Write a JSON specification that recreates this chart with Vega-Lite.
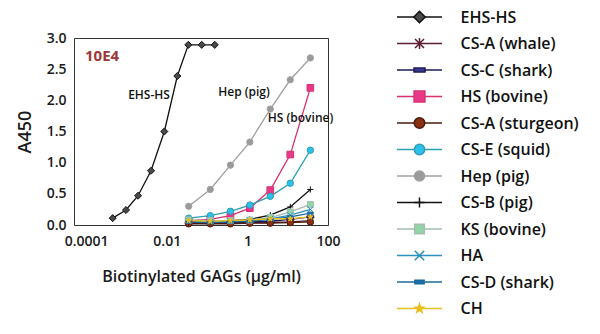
{
  "$schema": "https://vega.github.io/schema/vega-lite/v6.json",
  "background": "white",
  "padding": {"left": 15, "top": 8, "right": 5, "bottom": 5},
  "bounds": "flush",
  "spacing": 69,
  "config": {
    "font": "Open Sans",
    "view": {"stroke": null},
    "axis": {"labelFont": "Open Sans", "titleFont": "Open Sans", "labelFontWeight": 600, "titleFontWeight": 600, "labelColor": "#1a1a1a", "titleColor": "#1a1a1a", "grid": false, "ticks": false, "domain": false}
  },
  "datasets": {
    "curves": [
      {"series": "EHS-HS", "conc": 0.000456, "a450": 0.11},
      {"series": "EHS-HS", "conc": 0.000975, "a450": 0.24},
      {"series": "EHS-HS", "conc": 0.00194, "a450": 0.47},
      {"series": "EHS-HS", "conc": 0.00407, "a450": 0.87},
      {"series": "EHS-HS", "conc": 0.00871, "a450": 1.5},
      {"series": "EHS-HS", "conc": 0.0183, "a450": 2.39},
      {"series": "EHS-HS", "conc": 0.0343, "a450": 2.89},
      {"series": "EHS-HS", "conc": 0.0738, "a450": 2.89},
      {"series": "EHS-HS", "conc": 0.155, "a450": 2.89},
      {"series": "CS-A (whale)", "conc": 0.035, "a450": 0.03},
      {"series": "CS-A (whale)", "conc": 0.12, "a450": 0.03},
      {"series": "CS-A (whale)", "conc": 0.38, "a450": 0.03},
      {"series": "CS-A (whale)", "conc": 1.15, "a450": 0.04},
      {"series": "CS-A (whale)", "conc": 3.7, "a450": 0.04},
      {"series": "CS-A (whale)", "conc": 11.6, "a450": 0.05},
      {"series": "CS-A (whale)", "conc": 36.5, "a450": 0.07},
      {"series": "CS-C (shark)", "conc": 0.035, "a450": 0.03},
      {"series": "CS-C (shark)", "conc": 0.12, "a450": 0.03},
      {"series": "CS-C (shark)", "conc": 0.38, "a450": 0.04},
      {"series": "CS-C (shark)", "conc": 1.15, "a450": 0.05},
      {"series": "CS-C (shark)", "conc": 3.7, "a450": 0.06},
      {"series": "CS-C (shark)", "conc": 11.6, "a450": 0.09},
      {"series": "CS-C (shark)", "conc": 36.5, "a450": 0.13},
      {"series": "HS (bovine)", "conc": 0.035, "a450": 0.07},
      {"series": "HS (bovine)", "conc": 0.12, "a450": 0.09},
      {"series": "HS (bovine)", "conc": 0.38, "a450": 0.15},
      {"series": "HS (bovine)", "conc": 1.15, "a450": 0.27},
      {"series": "HS (bovine)", "conc": 3.7, "a450": 0.56},
      {"series": "HS (bovine)", "conc": 11.6, "a450": 1.13},
      {"series": "HS (bovine)", "conc": 36.5, "a450": 2.2},
      {"series": "CS-A (sturgeon)", "conc": 0.035, "a450": 0.02},
      {"series": "CS-A (sturgeon)", "conc": 0.12, "a450": 0.02},
      {"series": "CS-A (sturgeon)", "conc": 0.38, "a450": 0.02},
      {"series": "CS-A (sturgeon)", "conc": 1.15, "a450": 0.03},
      {"series": "CS-A (sturgeon)", "conc": 3.7, "a450": 0.03},
      {"series": "CS-A (sturgeon)", "conc": 11.6, "a450": 0.04},
      {"series": "CS-A (sturgeon)", "conc": 36.5, "a450": 0.05},
      {"series": "CS-E (squid)", "conc": 0.035, "a450": 0.11},
      {"series": "CS-E (squid)", "conc": 0.12, "a450": 0.15},
      {"series": "CS-E (squid)", "conc": 0.38, "a450": 0.22},
      {"series": "CS-E (squid)", "conc": 1.15, "a450": 0.32},
      {"series": "CS-E (squid)", "conc": 3.7, "a450": 0.46},
      {"series": "CS-E (squid)", "conc": 11.6, "a450": 0.67},
      {"series": "CS-E (squid)", "conc": 36.5, "a450": 1.2},
      {"series": "Hep (pig)", "conc": 0.035, "a450": 0.3},
      {"series": "Hep (pig)", "conc": 0.12, "a450": 0.57},
      {"series": "Hep (pig)", "conc": 0.38, "a450": 0.96},
      {"series": "Hep (pig)", "conc": 1.15, "a450": 1.33},
      {"series": "Hep (pig)", "conc": 3.7, "a450": 1.86},
      {"series": "Hep (pig)", "conc": 11.6, "a450": 2.33},
      {"series": "Hep (pig)", "conc": 36.5, "a450": 2.68},
      {"series": "CS-B (pig)", "conc": 0.035, "a450": 0.04},
      {"series": "CS-B (pig)", "conc": 0.12, "a450": 0.05},
      {"series": "CS-B (pig)", "conc": 0.38, "a450": 0.07},
      {"series": "CS-B (pig)", "conc": 1.15, "a450": 0.09},
      {"series": "CS-B (pig)", "conc": 3.7, "a450": 0.16},
      {"series": "CS-B (pig)", "conc": 11.6, "a450": 0.29},
      {"series": "CS-B (pig)", "conc": 36.5, "a450": 0.57},
      {"series": "KS (bovine)", "conc": 0.035, "a450": 0.08},
      {"series": "KS (bovine)", "conc": 0.12, "a450": 0.07},
      {"series": "KS (bovine)", "conc": 0.38, "a450": 0.07},
      {"series": "KS (bovine)", "conc": 1.15, "a450": 0.08},
      {"series": "KS (bovine)", "conc": 3.7, "a450": 0.12},
      {"series": "KS (bovine)", "conc": 11.6, "a450": 0.21},
      {"series": "KS (bovine)", "conc": 36.5, "a450": 0.33},
      {"series": "HA", "conc": 0.035, "a450": 0.06},
      {"series": "HA", "conc": 0.12, "a450": 0.05},
      {"series": "HA", "conc": 0.38, "a450": 0.06},
      {"series": "HA", "conc": 1.15, "a450": 0.07},
      {"series": "HA", "conc": 3.7, "a450": 0.1},
      {"series": "HA", "conc": 11.6, "a450": 0.16},
      {"series": "HA", "conc": 36.5, "a450": 0.25},
      {"series": "CS-D (shark)", "conc": 0.035, "a450": 0.05},
      {"series": "CS-D (shark)", "conc": 0.12, "a450": 0.04},
      {"series": "CS-D (shark)", "conc": 0.38, "a450": 0.05},
      {"series": "CS-D (shark)", "conc": 1.15, "a450": 0.06},
      {"series": "CS-D (shark)", "conc": 3.7, "a450": 0.09},
      {"series": "CS-D (shark)", "conc": 11.6, "a450": 0.13},
      {"series": "CS-D (shark)", "conc": 36.5, "a450": 0.19},
      {"series": "CH", "conc": 0.035, "a450": 0.07},
      {"series": "CH", "conc": 0.12, "a450": 0.06},
      {"series": "CH", "conc": 0.38, "a450": 0.07},
      {"series": "CH", "conc": 1.15, "a450": 0.08},
      {"series": "CH", "conc": 3.7, "a450": 0.1},
      {"series": "CH", "conc": 11.6, "a450": 0.1},
      {"series": "CH", "conc": 36.5, "a450": 0.13}
    ],
    "legendRows": [
      {"series": "EHS-HS"},
      {"series": "CS-A (whale)"},
      {"series": "CS-C (shark)"},
      {"series": "HS (bovine)"},
      {"series": "CS-A (sturgeon)"},
      {"series": "CS-E (squid)"},
      {"series": "Hep (pig)"},
      {"series": "CS-B (pig)"},
      {"series": "KS (bovine)"},
      {"series": "HA"},
      {"series": "CS-D (shark)"},
      {"series": "CH"}
    ],
    "notes": [
      {"label": "EHS-HS", "conc": 0.00363, "a450": 2.09},
      {"label": "Hep (pig)", "conc": 0.826, "a450": 2.14},
      {"label": "HS (bovine)", "conc": 20.8, "a450": 1.72}
    ],
    "tag": [
      {"label": "10E4", "conc": 0.000248, "a450": 2.71}
    ]
  },
  "resolve": {"scale": {"x": "independent", "y": "independent", "stroke": "independent", "fill": "independent", "shape": "independent", "size": "independent"}},
  "hconcat": [
    {
      "width": 254,
      "height": 187,
      "view": {"stroke": "#333333", "strokeWidth": 1},
      "encoding": {
        "x": {"field": "conc", "type": "quantitative", "scale": {"type": "log", "domain": [0.00005, 100], "nice": false},
              "axis": {"values": [0.0001, 0.01, 1, 100], "format": "~g", "labelFontSize": 14, "labelPadding": 9, "labelFlush": false, "title": "Biotinylated GAGs (µg/ml)", "titleFontSize": 16, "titlePadding": 20}},
        "y": {"field": "a450", "type": "quantitative", "scale": {"domain": [0, 3], "nice": false},
              "axis": {"values": [0, 0.5, 1, 1.5, 2, 2.5, 3], "format": ".1f", "labelFontSize": 14, "labelPadding": 8, "labelFlush": false, "title": "A450", "titleFontSize": 18, "titlePadding": 12}}
      },
      "layer": [
        {
          "data": {"name": "curves"},
          "mark": {"type": "line", "strokeWidth": 1.3},
          "encoding": {
            "stroke": {"field": "series", "type": "nominal", "legend": null,
              "scale": {"domain": ["EHS-HS", "CS-A (whale)", "CS-C (shark)", "HS (bovine)", "CS-A (sturgeon)", "CS-E (squid)", "Hep (pig)", "CS-B (pig)", "KS (bovine)", "HA", "CS-D (shark)", "CH"],
                        "range": ["#111111", "#5b1e35", "#1b1b5a", "#d8306f", "#4a1a10", "#2e9fb0", "#a0a0a0", "#111111", "#a6bdae", "#2a90c0", "#1a6a9a", "#e8c020"]}}
          }
        },
        {
          "data": {"name": "curves"},
          "mark": {"type": "point", "strokeWidth": 1, "opacity": 1},
          "encoding": {
            "stroke": {"field": "series", "type": "nominal", "legend": null,
              "scale": {"domain": ["EHS-HS", "CS-A (whale)", "CS-C (shark)", "HS (bovine)", "CS-A (sturgeon)", "CS-E (squid)", "Hep (pig)", "CS-B (pig)", "KS (bovine)", "HA", "CS-D (shark)", "CH"],
                        "range": ["#111111", "#6b2040", "#2a2a80", "#d8306f", "#4a1a10", "#2ab8e0", "#9a9a9a", "#222222", "#8ccaa0", "#2a90c0", "#1a6aa8", "#e8b018"]}},
            "fill": {"field": "series", "type": "nominal", "legend": null,
              "scale": {"domain": ["EHS-HS", "CS-A (whale)", "CS-C (shark)", "HS (bovine)", "CS-A (sturgeon)", "CS-E (squid)", "Hep (pig)", "CS-B (pig)", "KS (bovine)", "HA", "CS-D (shark)", "CH"],
                        "range": ["#4a4a4a", "#6b2040", "#3a3a90", "#e8388a", "#8a3010", "#2cc0ec", "#9a9a9a", "#333333", "#90d4a8", "#2a90c0", "#1a70b0", "#f0b818"]}},
            "shape": {"field": "series", "type": "nominal", "legend": null,
              "scale": {"domain": ["EHS-HS", "CS-A (whale)", "CS-C (shark)", "HS (bovine)", "CS-A (sturgeon)", "CS-E (squid)", "Hep (pig)", "CS-B (pig)", "KS (bovine)", "HA", "CS-D (shark)", "CH"],
                        "range": ["diamond", "M-0.8,-0.8L0.8,0.8M-0.8,0.8L0.8,-0.8M0,-1L0,1", "M-1,-0.35L1,-0.35L1,0.35L-1,0.35Z", "square", "circle", "circle", "circle", "M-1,0L1,0M0,-1L0,1", "square", "M-1,-1L1,1M-1,1L1,-1", "M-1,-0.4L1,-0.4L1,0.4L-1,0.4Z", "M0,-1L0.235,-0.324L0.951,-0.309L0.38,0.124L0.588,0.809L0,0.4L-0.588,0.809L-0.38,0.124L-0.951,-0.309L-0.235,-0.324Z"]}},
            "size": {"field": "series", "type": "nominal", "legend": null,
              "scale": {"domain": ["EHS-HS", "CS-A (whale)", "CS-C (shark)", "HS (bovine)", "CS-A (sturgeon)", "CS-E (squid)", "Hep (pig)", "CS-B (pig)", "KS (bovine)", "HA", "CS-D (shark)", "CH"],
                        "range": [50, 30, 20, 45, 40, 45, 45, 22, 45, 22, 25, 50]}}
          }
        },
        {
          "data": {"name": "notes"},
          "mark": {"type": "text", "font": "Open Sans", "fontWeight": 600, "fontSize": 12, "color": "#111111"},
          "encoding": {"text": {"field": "label"}}
        },
        {
          "data": {"name": "tag"},
          "mark": {"type": "text", "font": "Open Sans", "fontWeight": 700, "fontSize": 15, "color": "#a03535"},
          "encoding": {"text": {"field": "label"}}
        }
      ]
    },
    {
      "width": 45,
      "height": 187,
      "data": {"name": "legendRows"},
      "encoding": {
        "y": {"field": "series", "type": "nominal", "sort": null,
              "scale": {"type": "point", "range": [-21, 270.5], "padding": 0},
              "axis": {"orient": "right", "title": null, "labelFontSize": 16, "labelPadding": 18, "labelAlign": "left", "labelColor": "#111111"}}
      },
      "layer": [
        {
          "mark": {"type": "rule", "strokeWidth": 1.5},
          "encoding": {
            "x": {"datum": 0, "type": "quantitative", "scale": {"domain": [0, 1]}, "axis": null},
            "x2": {"datum": 1},
            "stroke": {"field": "series", "type": "nominal", "legend": null,
              "scale": {"domain": ["EHS-HS", "CS-A (whale)", "CS-C (shark)", "HS (bovine)", "CS-A (sturgeon)", "CS-E (squid)", "Hep (pig)", "CS-B (pig)", "KS (bovine)", "HA", "CS-D (shark)", "CH"],
                        "range": ["#111111", "#5b1e35", "#1b1b5a", "#d8306f", "#4a1a10", "#2e9fb0", "#a0a0a0", "#111111", "#a6bdae", "#2a90c0", "#1a6a9a", "#e8c020"]}}
          }
        },
        {
          "mark": {"type": "point", "strokeWidth": 1.5, "opacity": 1},
          "encoding": {
            "x": {"datum": 0.5, "type": "quantitative"},
            "stroke": {"field": "series", "type": "nominal", "legend": null,
              "scale": {"domain": ["EHS-HS", "CS-A (whale)", "CS-C (shark)", "HS (bovine)", "CS-A (sturgeon)", "CS-E (squid)", "Hep (pig)", "CS-B (pig)", "KS (bovine)", "HA", "CS-D (shark)", "CH"],
                        "range": ["#111111", "#6b2040", "#2a2a80", "#d8306f", "#4a1a10", "#2ab8e0", "#9a9a9a", "#222222", "#8ccaa0", "#2a90c0", "#1a6aa8", "#e8b018"]}},
            "fill": {"field": "series", "type": "nominal", "legend": null,
              "scale": {"domain": ["EHS-HS", "CS-A (whale)", "CS-C (shark)", "HS (bovine)", "CS-A (sturgeon)", "CS-E (squid)", "Hep (pig)", "CS-B (pig)", "KS (bovine)", "HA", "CS-D (shark)", "CH"],
                        "range": ["#4a4a4a", "#6b2040", "#3a3a90", "#e8388a", "#8a3010", "#2cc0ec", "#9a9a9a", "#333333", "#90d4a8", "#2a90c0", "#1a70b0", "#f0b818"]}},
            "shape": {"field": "series", "type": "nominal", "legend": null,
              "scale": {"domain": ["EHS-HS", "CS-A (whale)", "CS-C (shark)", "HS (bovine)", "CS-A (sturgeon)", "CS-E (squid)", "Hep (pig)", "CS-B (pig)", "KS (bovine)", "HA", "CS-D (shark)", "CH"],
                        "range": ["diamond", "M-0.8,-0.8L0.8,0.8M-0.8,0.8L0.8,-0.8M0,-1L0,1", "M-1,-0.35L1,-0.35L1,0.35L-1,0.35Z", "square", "circle", "circle", "circle", "M-1,0L1,0M0,-1L0,1", "square", "M-1,-1L1,1M-1,1L1,-1", "M-1,-0.4L1,-0.4L1,0.4L-1,0.4Z", "M0,-1L0.235,-0.324L0.951,-0.309L0.38,0.124L0.588,0.809L0,0.4L-0.588,0.809L-0.38,0.124L-0.951,-0.309L-0.235,-0.324Z"]}},
            "size": {"field": "series", "type": "nominal", "legend": null,
              "scale": {"domain": ["EHS-HS", "CS-A (whale)", "CS-C (shark)", "HS (bovine)", "CS-A (sturgeon)", "CS-E (squid)", "Hep (pig)", "CS-B (pig)", "KS (bovine)", "HA", "CS-D (shark)", "CH"],
                        "range": [130, 80, 40, 130, 110, 110, 110, 30, 120, 40, 60, 120]}}
          }
        }
      ]
    }
  ]
}
